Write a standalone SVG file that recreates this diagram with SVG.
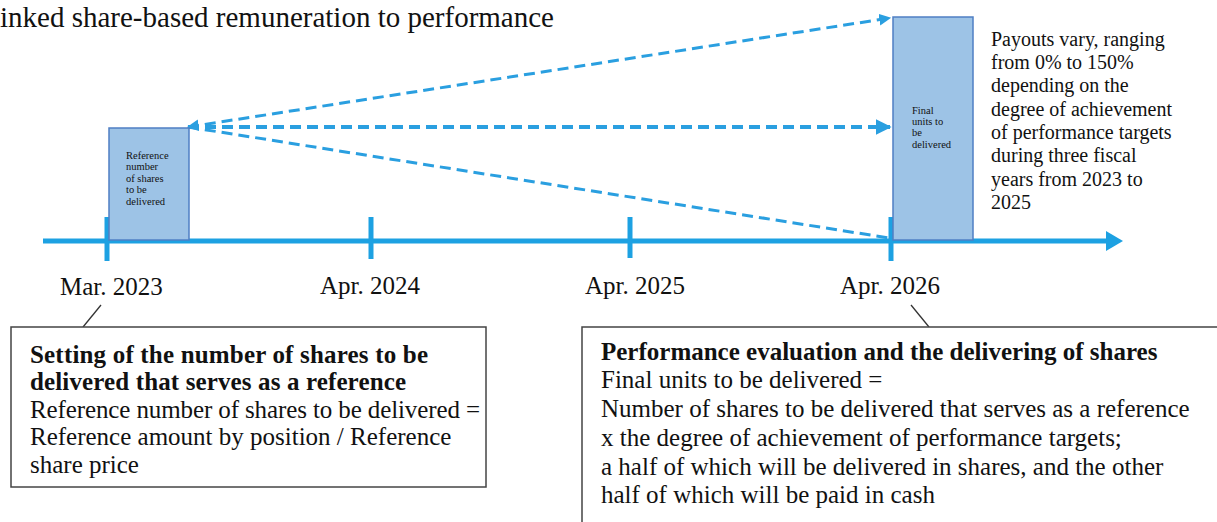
<svg xmlns="http://www.w3.org/2000/svg" width="1217" height="522" viewBox="0 0 1217 522">
<defs>
<style>
.t{font-family:"Liberation Serif","Times New Roman",serif;fill:#111}
.b{font-weight:bold}
.node{fill:#9dc3e6;stroke:#4f7fc4;stroke-width:1.5}
.tick{stroke:#1da1e2;stroke-width:5}
.dash{stroke:#2a9fe0;fill:none;stroke-dasharray:11 6}
.call{fill:#fff;stroke:#444;stroke-width:1.5}
.lead{stroke:#333;stroke-width:1.3}
</style>
<marker id="ah" viewBox="0 0 10 10" refX="9" refY="5" markerWidth="4" markerHeight="4" orient="auto-start-reverse">
<path d="M0,0L10,5L0,10z" fill="#2a9fe0"/>
</marker>
</defs>
<rect width="1217" height="522" fill="#fff"/>
<g id="title">
<text x="0" y="27" font-family="Liberation Serif" font-size="29" fill="#111">inked share-based remuneration to performance</text>
</g>

<g id="connectors">
<line x1="43" y1="241" x2="1110" y2="241" stroke="#1da1e2" stroke-width="5"/>
<path d="M1106,231L1123,241L1106,251z" fill="#1da1e2"/>
<line class="dash" x1="188" y1="127" x2="890" y2="18" stroke-width="3" marker-end="url(#ah)" marker-start="url(#ah)"/>
<line class="dash" x1="188" y1="127" x2="890" y2="127" stroke-width="4" marker-end="url(#ah)"/>
<line class="dash" x1="188" y1="127" x2="889" y2="238" stroke-width="3"/>
<line class="lead" x1="83" y1="327" x2="101" y2="305"/>
<line class="lead" x1="911" y1="305" x2="929" y2="327"/>
</g>

<g id="ticks">
<line class="tick" x1="107" y1="217" x2="107" y2="261"/>
<line class="tick" x1="371" y1="217" x2="371" y2="259"/>
<line class="tick" x1="630" y1="217" x2="630" y2="258"/>
<line class="tick" x1="891" y1="217" x2="891" y2="261"/>
</g>

<g id="node-reference">
<rect class="node" x="109" y="128" width="80" height="112"/>
<text class="t" font-size="10.5">
<tspan x="126" y="159">Reference</tspan>
<tspan x="126" y="170">number</tspan>
<tspan x="126" y="182">of shares</tspan>
<tspan x="126" y="193">to be</tspan>
<tspan x="126" y="205">delivered</tspan>
</text>
</g>

<g id="node-final">
<rect class="node" x="893" y="17" width="80" height="223"/>
<text class="t" font-size="10.5">
<tspan x="912" y="114">Final</tspan>
<tspan x="912" y="125">units to</tspan>
<tspan x="912" y="136">be</tspan>
<tspan x="912" y="148">delivered</tspan>
</text>
</g>

<g id="node-payouts">
<text class="t" font-size="20">
<tspan x="991" y="46">Payouts vary, ranging</tspan>
<tspan x="991" y="69">from 0% to 150%</tspan>
<tspan x="991" y="92">depending on the</tspan>
<tspan x="991" y="116">degree of achievement</tspan>
<tspan x="991" y="139">of performance targets</tspan>
<tspan x="991" y="162">during three fiscal</tspan>
<tspan x="991" y="186">years from 2023 to</tspan>
<tspan x="991" y="209">2025</tspan>
</text>
</g>

<g id="labels">
<text class="t" font-size="25" x="60" y="295">Mar. 2023</text>
<text class="t" font-size="25" x="320" y="294">Apr. 2024</text>
<text class="t" font-size="25" x="585" y="294">Apr. 2025</text>
<text class="t" font-size="25" x="840" y="294">Apr. 2026</text>
</g>

<g id="node-setting">
<rect class="call" x="11" y="327" width="475" height="160"/>
<text class="t" font-size="25">
<tspan class="b" x="30" y="363" textLength="398">Setting of the number of shares to be</tspan>
<tspan class="b" x="30" y="390" textLength="376">delivered that serves as a reference</tspan>
<tspan x="30" y="418" textLength="450">Reference number of shares to be delivered =</tspan>
<tspan x="30" y="445">Reference amount by position / Reference</tspan>
<tspan x="30" y="473">share price</tspan>
</text>
</g>

<g id="node-evaluation">
<rect class="call" x="582" y="327" width="640" height="200"/>
<text class="t" font-size="25">
<tspan class="b" x="601" y="360">Performance evaluation and the delivering of shares</tspan>
<tspan x="601" y="388">Final units to be delivered =</tspan>
<tspan x="601" y="417">Number of shares to be delivered that serves as a reference</tspan>
<tspan x="601" y="446">x the degree of achievement of performance targets;</tspan>
<tspan x="601" y="475">a half of which will be delivered in shares, and the other</tspan>
<tspan x="601" y="503">half of which will be paid in cash</tspan>
</text>
</g>
</svg>
